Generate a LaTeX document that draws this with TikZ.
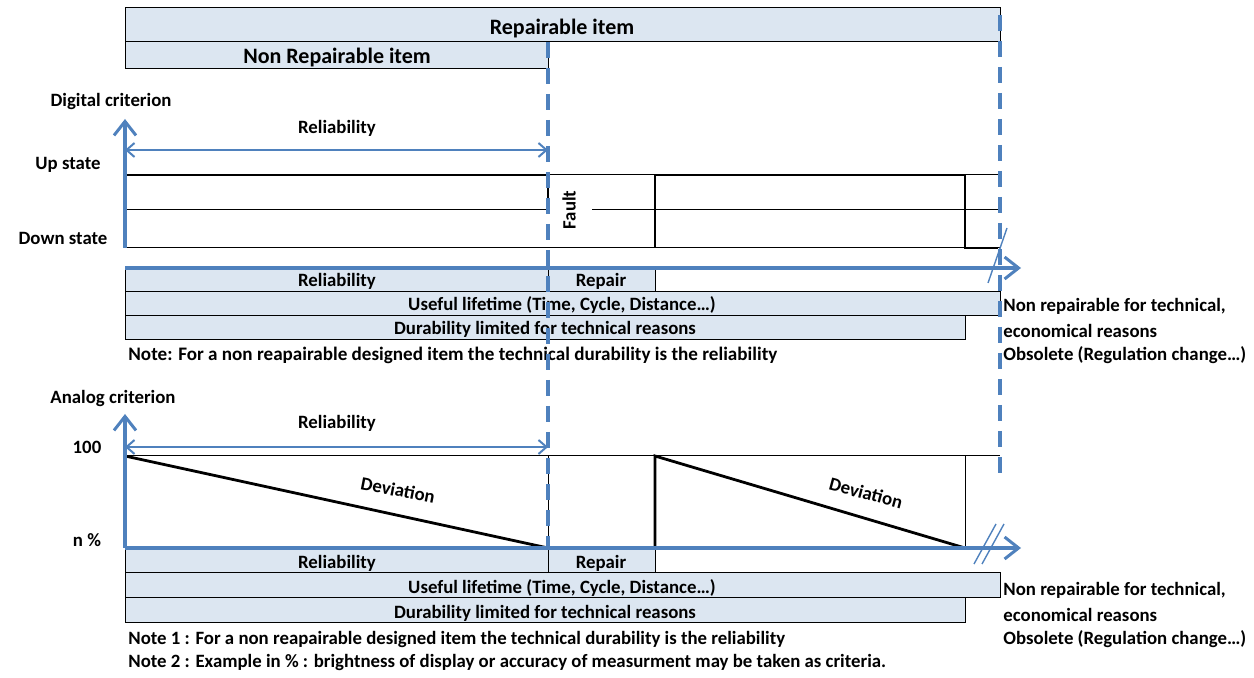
\documentclass[tikz,border=0pt]{standalone}
\usepackage{fontspec}
\setmainfont{Carlito}
\usetikzlibrary{arrows.meta}
\definecolor{axisblue}{RGB}{79,129,189}
\definecolor{boxfill}{RGB}{220,230,241}
\begin{document}
\begin{tikzpicture}[x=0.5pt,y=-0.5pt,
  every node/.style={font=\fontsize{9.4}{11}\selectfont\bfseries, inner sep=0pt},
  head/.style={font=\fontsize{11}{13}\selectfont\bfseries},
  notefont/.style={font=\fontsize{9.55}{11}\selectfont\bfseries},
  cell/.style={draw=black, line width=0.5pt, fill=boxfill},
  axisarrow/.style={draw=axisblue, line width=1.6pt, -{Straight Barb[length=7pt,width=11pt,line width=1.5pt]}},
  spanarrow/.style={draw=axisblue, line width=1.1pt, {Straight Barb[length=4pt,width=7pt,line width=1pt]}-{Straight Barb[length=4pt,width=7pt,line width=1pt]}},
  limitline/.style={draw=axisblue, line width=1.6pt, dash pattern=on 8pt off 5pt},
  thinl/.style={draw=black, line width=0.5pt},
  thickl/.style={draw=black, line width=1.4pt},
  slashl/.style={draw=axisblue, line width=0.7pt}
]
\useasboundingbox (0,0) rectangle (1254,678);

% ---------- header boxes ----------
\path[cell] (125,8) rectangle (1000,42);
\node[head] (rep) at (562,29) {Repairable item};
\path[cell] (125,42) rectangle (548,69);
\node[head] (nonrep) at (337,58) {Non Repairable item};

% ---------- digital criterion ----------
\node (dig) at (111,102) {Digital criterion};
\node (up) at (68,165) {Up state};
\node (down) at (63,238) {Down state};
\coordinate (dy0) at (125,248);
\coordinate (dy1) at (125,119);
\coordinate (dx0) at (125,268);
\coordinate (dx1) at (1021,268);

% state lines
\draw[thinl] (125,175) -- (1000,175);
\draw[thinl] (125,210) -- (548,210);
\draw[thinl] (592,210) -- (1000,210);
\draw[thinl] (125,248) -- (1000,248);
\draw[thickl] (125,175) -- (548,175) -- (548,210);
\draw[thickl] (655,248) -- (655,175) -- (965,175) -- (965,248) -- (998,248);
\node[rotate=90] (fault) at (569,210) {Fault};

% span
\coordinate (ds0) at (125,150);
\coordinate (ds1) at (548,150);
\draw[spanarrow] (ds0) -- (ds1);
\node (drel) at (337,128) {Reliability};

% rows
\path[cell] (125,268) rectangle (548,292);
\path[cell] (548,268) rectangle (655,292);
\path[cell] (125,292) rectangle (1000,316);
\path[cell] (125,316) rectangle (965,340);
\node (dr1) at (337,281) {Reliability};
\node (dr2) at (601,281) {Repair};
\node (dr3) at (562,305) {Useful lifetime (Time, Cycle, Distance…)};
\node (dr4) at (545,329) {Durability limited for technical reasons};
\node[anchor=west, notefont] (dnote) at (128,355) {Note: For a non reapairable designed item the technical durability is the reliability};
\node[anchor=west] (dt1) at (1003,306) {Non repairable for technical,};
\node[anchor=west] (dt2) at (1003,331) {economical reasons};
\node[anchor=west] (dt3) at (1003,355) {Obsolete (Regulation change…)};

\draw[axisarrow] (dy0) -- (dy1);
\draw[axisarrow] (dx0) -- (dx1);
\coordinate (dsl0) at (988,283);
\coordinate (dsl1) at (1007,228);
\draw[slashl] (dsl0) -- (dsl1);

% ---------- analog criterion ----------
\node (ana) at (113,398) {Analog criterion};
\node (hund) at (87,447) {100};
\node (npc) at (87,540) {n \%};
\coordinate (ay0) at (125,548);
\coordinate (ay1) at (125,414);
\coordinate (ax0) at (125,548);
\coordinate (ax1) at (1021,548);

\draw[thinl] (125,456) -- (1000,456);
\draw[thinl] (548,456) -- (548,548);
\draw[thinl] (965,456) -- (965,548);
\draw[thickl] (125,456) -- (548,548);
\draw[thickl] (655,548) -- (655,456) -- (965,548) -- (1000,548);
\node[rotate=-11] (dev1) at (398,490) {Deviation};
\node[rotate=-15] (dev2) at (866,493) {Deviation};

\coordinate (as0) at (125,447);
\coordinate (as1) at (548,447);
\draw[spanarrow] (as0) -- (as1);
\node (arel) at (337,423) {Reliability};

\path[cell] (125,548) rectangle (548,573);
\path[cell] (548,548) rectangle (655,573);
\path[cell] (125,573) rectangle (1000,598);
\path[cell] (125,598) rectangle (965,623);
\node (ar1) at (337,563) {Reliability};
\node (ar2) at (601,563) {Repair};
\node (ar3) at (562,588) {Useful lifetime (Time, Cycle, Distance…)};
\node (ar4) at (545,613) {Durability limited for technical reasons};
\node[anchor=west] (anote1) at (128,639) {Note 1 : For a non reapairable designed item the technical durability is the reliability};
\node[anchor=west] (anote2) at (128,662) {Note 2 : Example in \% : brightness of display or accuracy of measurment may be taken as criteria.};
\node[anchor=west] (at1) at (1003,590) {Non repairable for technical,};
\node[anchor=west] (at2) at (1003,615) {economical reasons};
\node[anchor=west] (at3) at (1003,639) {Obsolete (Regulation change…)};

\draw[axisarrow] (ay0) -- (ay1);
\draw[axisarrow] (ax0) -- (ax1);
\coordinate (asl0) at (974,564);
\coordinate (asl1) at (996,524);
\coordinate (asl2) at (982,564);
\coordinate (asl3) at (1004,524);
\draw[slashl] (asl0) -- (asl1);
\draw[slashl] (asl2) -- (asl3);

% ---------- limits (dashed) ----------
\coordinate (l0) at (548,42);
\coordinate (l1) at (548,548);
\coordinate (r0) at (1000,15);
\coordinate (r1) at (1000,482);
\draw[limitline] (l0) -- (l1);
\draw[limitline] (r0) -- (r1);
\end{tikzpicture}
\end{document}
